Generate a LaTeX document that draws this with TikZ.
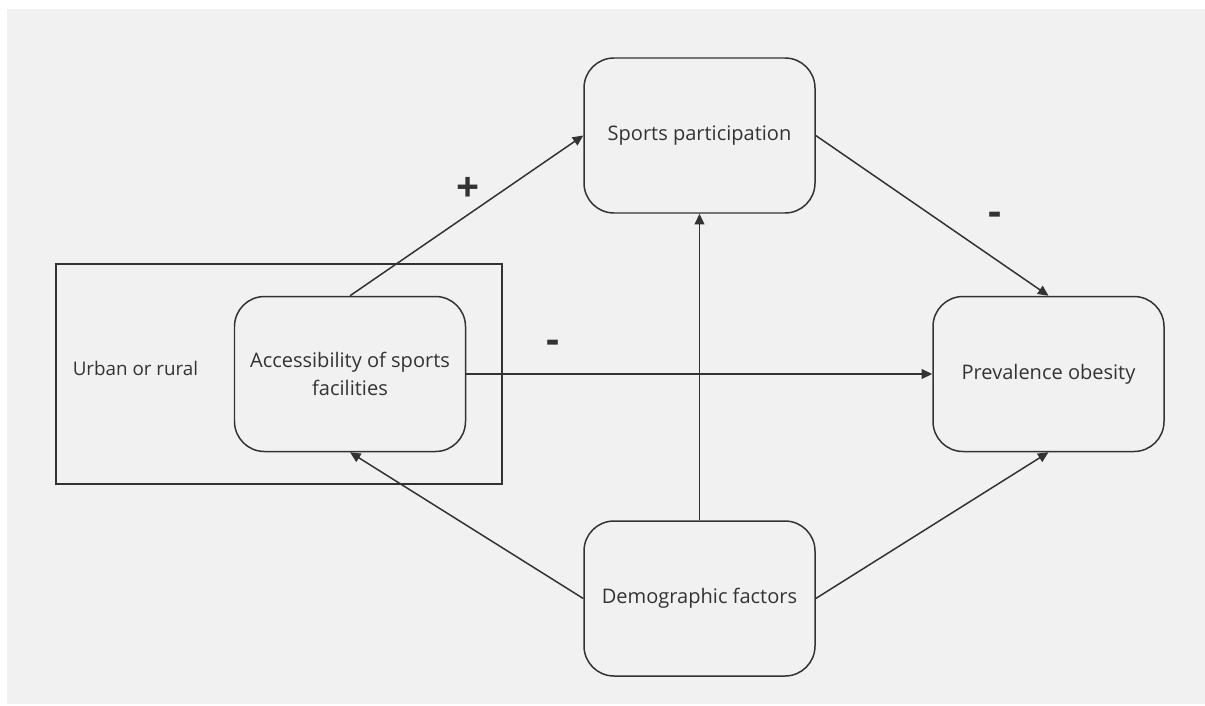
\documentclass[tikz,border=0pt]{standalone}
\usepackage{fontspec}
\setmainfont{Open Sans}
\usepackage{tikz}
\usetikzlibrary{arrows.meta,positioning}
\definecolor{bggrey}{HTML}{F1F1F1}
\definecolor{ink}{HTML}{333333}

\begin{document}
\begin{tikzpicture}[
  factor/.style={draw=ink, line width=0.85pt, rounded corners=0.6cm, minimum width=4.62cm, minimum height=3.1cm, align=center, text=ink, font=\fontsize{11.4}{16}\selectfont},
  link/.style={draw=ink, line width=0.85pt, -{Triangle[length=6pt,width=5.5pt]}},
  sign/.style={text=ink, font=\fontsize{23}{23}\selectfont\bfseries}
]
  \useasboundingbox (0,0) rectangle (24.1,14.1);
  \fill[bggrey] (0.14,0.02) rectangle (24.1,13.92);
  % context box
  \node[draw=ink, line width=0.85pt, minimum width=8.92cm, minimum height=4.4cm] (area) at (5.58,6.62) {};
  \node[text=ink, font=\fontsize{10.7}{13}\selectfont] (urban) at (2.71,6.74) {Urban or rural};
  % factors
  \node[factor] (access) at (7.0,6.62) {Accessibility of sports\\facilities};
  \node[factor] (sports) at (13.99,11.39) {Sports participation};
  \node[factor] (obesity) at (20.97,6.62) {Prevalence obesity};
  \node[factor] (demo) at (13.99,2.13) {Demographic factors};
  % effects
  \draw[link] (access.north) -- (sports.west);
  \draw[link] (sports.east) -- (obesity.north);
  \draw[link] (access.east) -- (obesity.west);
  \draw[link] (demo.north) -- (sports.south);
  \draw[link] (demo.west) -- (access.south);
  \draw[link] (demo.east) -- (obesity.south);
  \node[sign] (plus) at (9.36,10.32) {+};
  \node[sign] (minusA) at (19.9,9.72) {-};
  \node[sign] (minusB) at (11.06,7.16) {-};
\end{tikzpicture}
\end{document}
